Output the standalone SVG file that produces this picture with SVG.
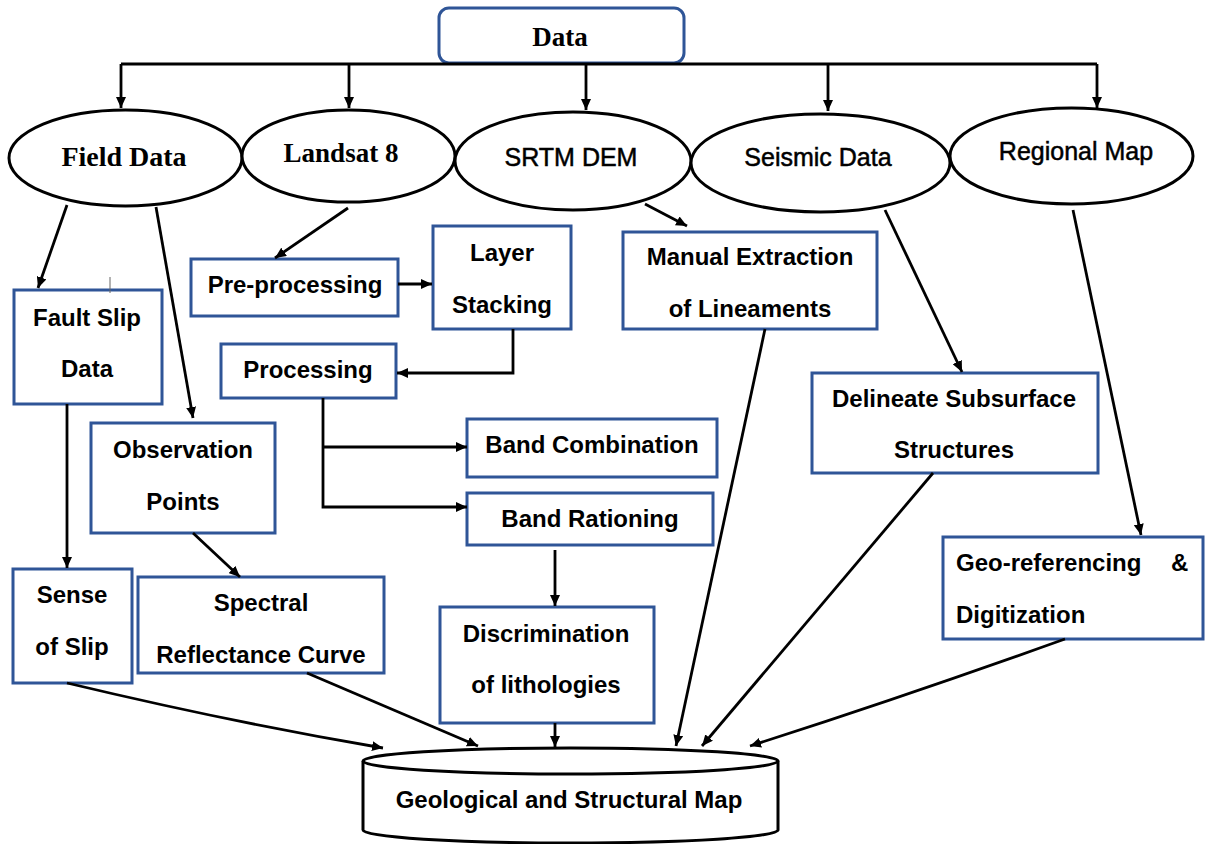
<svg xmlns="http://www.w3.org/2000/svg" width="1206" height="844" viewBox="0 0 1206 844">
<defs>
<marker id="arr" markerUnits="userSpaceOnUse" markerWidth="12" markerHeight="10" refX="11" refY="5" orient="auto">
<path d="M0,0 L11,5 L0,10 z" fill="#000"/>
</marker>
<style>
.box{fill:#fff;stroke:#2F5597;stroke-width:3}
.ell{fill:#fff;stroke:#000;stroke-width:3}
.t{font-family:"Liberation Sans",Arial,sans-serif;font-weight:bold;font-size:24px;fill:#000;text-anchor:middle}
.ts{font-family:"Liberation Sans",Arial,sans-serif;font-size:25px;fill:#000;stroke:#000;stroke-width:0.5;text-anchor:middle}
.tt{font-family:"Liberation Serif","Times New Roman",serif;font-weight:bold;font-size:27px;fill:#000;text-anchor:middle}
.c{fill:none;stroke:#000;stroke-width:2.8;marker-end:url(#arr)}
.cn{fill:none;stroke:#000;stroke-width:2.8}
</style>
</defs>
<rect width="1206" height="844" fill="#fff"/>

<g id="data"><rect class="box" x="439" y="8" width="245" height="55" rx="10"/><text class="tt" x="560" y="46">Data</text></g>

<g id="field-data"><ellipse class="ell" cx="125.5" cy="158" rx="116.5" ry="48"/><text class="tt" x="124" y="166" style="font-size:28px">Field Data</text></g>
<g id="landsat"><ellipse class="ell" cx="348.5" cy="156" rx="106.5" ry="46"/><text class="tt" x="341" y="162">Landsat 8</text></g>
<g id="srtm"><ellipse class="ell" cx="573" cy="161" rx="118" ry="49"/><text class="ts" x="571" y="166">SRTM DEM</text></g>
<g id="seismic"><ellipse class="ell" cx="820.5" cy="163" rx="129.5" ry="49"/><text class="ts" x="818" y="166">Seismic Data</text></g>
<g id="regional"><ellipse class="ell" cx="1071.5" cy="156" rx="121.5" ry="48"/><text class="ts" x="1076" y="160">Regional Map</text></g>

<g id="fault-slip"><rect class="box" x="14" y="290" width="148" height="114"/><text class="t" x="87" y="326">Fault Slip</text><text class="t" x="87" y="377">Data</text></g>
<g id="observation"><rect class="box" x="91" y="423" width="184" height="110"/><text class="t" x="183" y="458">Observation</text><text class="t" x="183" y="510">Points</text></g>
<g id="sense"><rect class="box" x="13" y="569" width="119" height="114"/><text class="t" x="72" y="603">Sense</text><text class="t" x="72" y="655">of Slip</text></g>
<g id="spectral"><rect class="box" x="138" y="577" width="246" height="96"/><text class="t" x="261" y="611">Spectral</text><text class="t" x="261" y="663">Reflectance Curve</text></g>

<g id="preprocessing"><rect class="box" x="191" y="259" width="207" height="57"/><text class="t" x="295" y="293">Pre-processing</text></g>
<g id="layer-stacking"><rect class="box" x="433" y="226" width="138" height="103"/><text class="t" x="502" y="261">Layer</text><text class="t" x="502" y="313">Stacking</text></g>
<g id="processing"><rect class="box" x="221" y="344" width="175" height="54"/><text class="t" x="308" y="378">Processing</text></g>
<g id="band-combination"><rect class="box" x="467" y="419" width="250" height="58"/><text class="t" x="592" y="453">Band Combination</text></g>
<g id="band-rationing"><rect class="box" x="467" y="493" width="246" height="52"/><text class="t" x="590" y="527">Band Rationing</text></g>
<g id="discrimination"><rect class="box" x="440" y="607" width="214" height="116"/><text class="t" x="546" y="642">Discrimination</text><text class="t" x="546" y="693">of lithologies</text></g>

<g id="manual-extraction"><rect class="box" x="623" y="232" width="254" height="97"/><text class="t" x="750" y="265">Manual Extraction</text><text class="t" x="750" y="317">of Lineaments</text></g>
<g id="delineate"><rect class="box" x="812" y="373" width="286" height="100"/><text class="t" x="954" y="407">Delineate Subsurface</text><text class="t" x="954" y="458">Structures</text></g>
<g id="georeferencing"><rect class="box" x="943" y="537" width="260" height="102"/><text class="t" style="text-anchor:start"><tspan x="956" y="571">Geo-referencing</tspan><tspan x="1171" y="571">&amp;</tspan></text><text class="t" style="text-anchor:start" x="956" y="623">Digitization</text></g>

<g id="map"><path d="M363,761 V830 A207.5,13 0 0 0 778,830 V761" fill="#fff" stroke="#000" stroke-width="3"/><ellipse cx="570.5" cy="761" rx="207.5" ry="13" fill="#fff" stroke="#000" stroke-width="3"/><text class="t" x="569" y="808">Geological and Structural Map</text></g>

<line x1="110" y1="277" x2="110" y2="293" stroke="#666" stroke-width="1"/>

<g id="connectors">
<path class="cn" d="M121,64 H1097"/>
<path class="c" d="M121,64 V108"/>
<path class="c" d="M349,64 V108"/>
<path class="c" d="M586,64 V110"/>
<path class="c" d="M828,64 V111"/>
<path class="c" d="M1097,64 V108"/>
<path class="c" d="M67,205 L38,288"/>
<path class="c" d="M156,207 L193,418"/>
<path class="c" d="M348,208 L275,258"/>
<path class="c" d="M398,284 L432,284"/>
<path class="c" d="M513,329 V373 H397"/>
<path class="c" d="M323,398 V507 H467"/>
<path class="c" d="M323,447 H467"/>
<path class="c" d="M555,550 V606"/>
<path class="c" d="M555,723 V747"/>
<path class="c" d="M645,204 L687,226"/>
<path class="c" d="M765,329 L676,746"/>
<path class="c" d="M885,210 L962,372"/>
<path class="c" d="M933,473 L702,746"/>
<path class="c" d="M1073,210 L1141,535"/>
<path class="c" d="M1065,639 Q900,698 750,746"/>
<path class="c" d="M67,404 V568"/>
<path class="c" d="M193,533 L240,577"/>
<path class="c" d="M67,683 Q230,722 383,748"/>
<path class="c" d="M307,673 L478,746"/>
</g>
</svg>
